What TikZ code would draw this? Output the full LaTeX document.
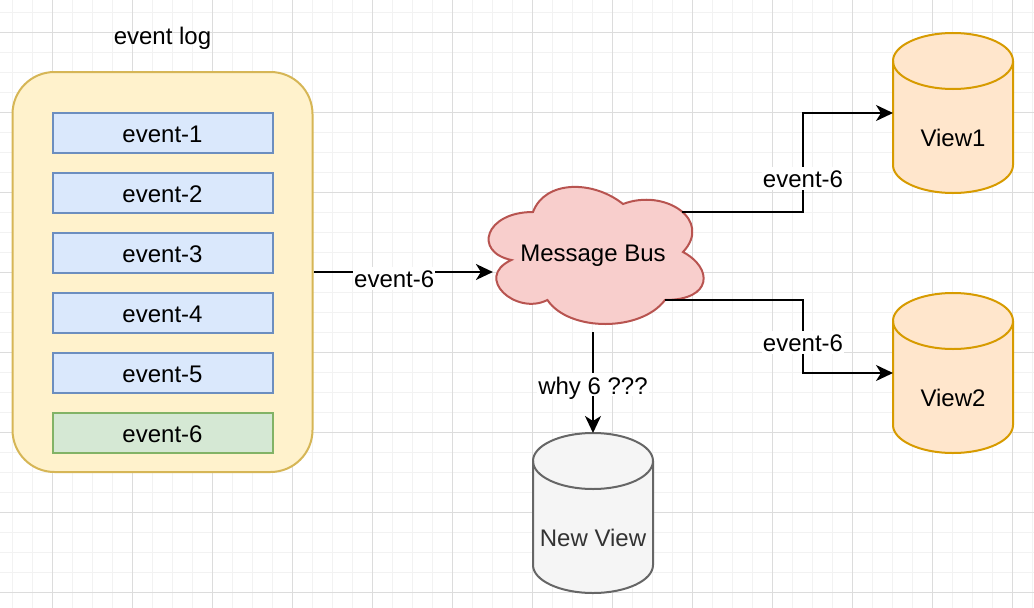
\documentclass[tikz,border=0pt]{standalone}
\usepackage{fontspec}
\setmainfont{Liberation Sans}
\usepackage{tikz}
\usetikzlibrary{calc,arrows.meta}

\definecolor{gridminor}{HTML}{F2F2F2}
\definecolor{gridmajor}{HTML}{DCDCDC}
\definecolor{logfill}{HTML}{FFF2CC}
\definecolor{logline}{HTML}{D6B656}
\definecolor{evfill}{HTML}{DAE8FC}
\definecolor{evline}{HTML}{6C8EBF}
\definecolor{okfill}{HTML}{D5E8D4}
\definecolor{okline}{HTML}{82B366}
\definecolor{busfill}{HTML}{F8CECC}
\definecolor{busline}{HTML}{B85450}
\definecolor{viewfill}{HTML}{FFE6CC}
\definecolor{viewline}{HTML}{D79B00}
\definecolor{newfill}{HTML}{F5F5F5}
\definecolor{newline}{HTML}{666666}
\definecolor{newtext}{HTML}{333333}

\tikzset{
    every node/.style={font=\fontsize{24}{28}\selectfont, text height=20pt, text depth=1pt},
    logbox/.style={draw=logline, fill=logfill, line width=2pt, rounded corners=42pt,
        minimum width=300, minimum height=400},
    evbox/.style={draw=evline, fill=evfill, line width=2pt,
        minimum width=220, minimum height=40, inner sep=0pt},
    evnew/.style={evbox, draw=okline, fill=okfill},
    dbbox/.style={minimum width=120, minimum height=160, inner sep=0pt, outer sep=0pt},
    busbox/.style={minimum width=240, minimum height=160, inner sep=0pt, outer sep=0pt},
    flow/.style={line width=2pt, -{Stealth[length=17pt, width=16pt, inset=5pt]}},
    lbl/.style={fill=white, inner sep=1pt}
}

\newcommand\dbshape[2]{%
    \draw[#2]
        ($(#1.north west)+(0,28)$) -- ($(#1.south west)+(0,-28)$)
            arc[start angle=180, end angle=360, x radius=60pt, y radius=28pt]
            -- ($(#1.north east)+(0,28)$)
            arc[start angle=0, end angle=180, x radius=60pt, y radius=28pt]
            -- cycle;
    \draw[#2, fill=none]
        ($(#1.north west)+(0,28)$)
            arc[start angle=180, end angle=360, x radius=60pt, y radius=28pt];
}

\begin{document}
\begin{tikzpicture}[x=1pt, y=-1pt]
    \fill[white] (0,0) rectangle (1034,608);
    \useasboundingbox (0,0) rectangle (1034,608);

    \foreach \gx in {12,32,...,1032} \draw[gridminor, line width=1pt] (\gx,0) -- (\gx,608);
    \foreach \gy in {12,32,...,608} \draw[gridminor, line width=1pt] (0,\gy) -- (1034,\gy);
    \foreach \gx in {52,132,...,1032} \draw[gridmajor, line width=1pt] (\gx,0) -- (\gx,608);
    \foreach \gy in {32,112,...,608} \draw[gridmajor, line width=1pt] (0,\gy) -- (1034,\gy);

    \node (logtitle) at (162.5,35) {event log};
    \node[logbox] (log) at (162.5,272) {};
    \foreach \i in {1,...,5}
        \node[evbox] (ev\i) at (162.5,{132.5+60*(\i-1)}) {event-\i};
    \node[evbox, evnew] (ev6) at (162.5,432.5) {event-6};

    \begin{scope}[shift={(473,172)}, x=240pt, y=-160pt]
        \draw[busline, fill=busfill, line width=2pt]
            (0.25,0.25) .. controls (0.05,0.25) and (0,0.5) .. (0.16,0.55)
                .. controls (0,0.66) and (0.18,0.9) .. (0.31,0.8)
                .. controls (0.4,1) and (0.7,1) .. (0.8,0.8)
                .. controls (1,0.8) and (1,0.6) .. (0.875,0.5)
                .. controls (1,0.3) and (0.8,0.1) .. (0.625,0.2)
                .. controls (0.5,0.05) and (0.3,0.05) .. (0.25,0.25)
                -- cycle;
        \coordinate (bus-in) at (0.083,0.625);
        \coordinate (bus-up) at (0.87,0.25);
        \coordinate (bus-down) at (0.8,0.8);
    \end{scope}
    \node[busbox] (bus) at (593,252) {Message Bus};

    \node[dbbox] (view1) at (953,113) {};
    \node[dbbox] (view2) at (953,373) {};
    \node[dbbox] (newview) at (593,513) {};
    \dbshape{view1}{viewline, fill=viewfill, line width=2pt}
    \dbshape{view2}{viewline, fill=viewfill, line width=2pt}
    \dbshape{newview}{newline, fill=newfill, line width=2pt}
    \node (view1-txt) at ($(view1.center)+(0,24)$) {View1};
    \node (view2-txt) at ($(view2.center)+(0,24)$) {View2};
    \node[text=newtext] (newview-txt) at ($(newview.center)+(0,24)$) {New View};

    \coordinate (jog) at (803,0);

    \draw[flow] (log.east) -- node[lbl, pos=0.45, yshift=-6pt] {event-6} (bus-in);
    \draw[flow] (bus-up) -| node[lbl, pos=0.67] {event-6} (jog |- view1.west) -- (view1.west);
    \draw[flow] (bus-down) -| node[lbl, pos=0.79] {event-6} (jog |- view2.west) -- (view2.west);
    \draw[flow] (bus.south) -- node[lbl, pos=0.52] {why 6 ???} (newview.north);
\end{tikzpicture}
\end{document}
